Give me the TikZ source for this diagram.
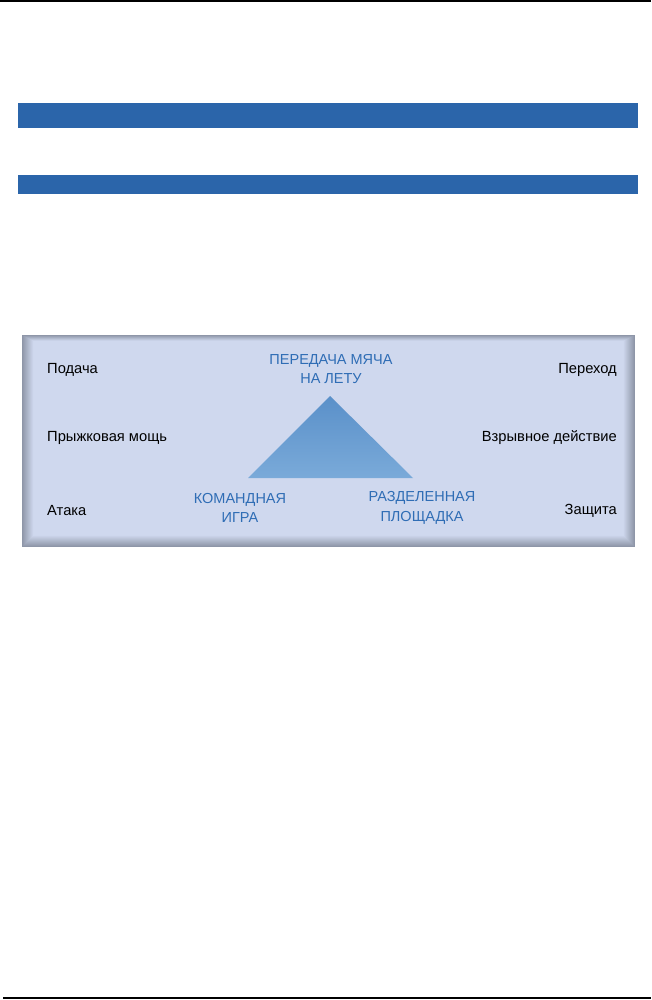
\documentclass[tikz,border=0pt]{standalone}
\usepackage{fontspec}
\setmainfont{Liberation Sans}
\usetikzlibrary{calc, positioning}

\definecolor{barblue}{HTML}{2B65AA}
\definecolor{textblue}{HTML}{2F6DB5}
\definecolor{panelfill}{HTML}{CFD8EE}
\definecolor{paneledge}{HTML}{8E96A8}
\definecolor{tritop}{HTML}{5A90C9}
\definecolor{tribot}{HTML}{7AAAD9}

\tikzset{
  item/.style={font=\fontsize{14.7}{16}\selectfont, text=black, inner sep=0pt},
  corner/.style={font=\fontsize{14.5}{19.5}\selectfont, text=textblue, align=center, inner sep=0pt},
  bar/.style={fill=barblue, draw=none}
}

\begin{document}
\begin{tikzpicture}[x=1pt, y=-1pt]
\def\wid{651}
\def\hgt{1000}
\def\lx{47}
\def\rx{617}
\useasboundingbox (0,0) rectangle (\wid,\hgt);
% page rules
\draw[line width=2pt] (0,1.5) -- (\wid,1.5);
\draw[line width=2pt] (3,998) -- (\wid,998);
% blue bars
\fill[bar] (18,103) rectangle (638,128);
\fill[bar] (18,175) rectangle (638,194);
% panel with soft edge
\foreach \i in {0,...,12} {
  \pgfmathsetmacro\p{min(100,\i*9)}
  \fill[panelfill!\p!paneledge] (22+\i,335+0.5*\i) rectangle (635-\i,547-\i);
}
% triangle
\coordinate (A) at (330,396);
\coordinate (B) at (248,478);
\coordinate (C) at (413,478);
\shade[top color=tritop, bottom color=tribot] (A) -- (B) -- (C) -- cycle;
% side labels
\node[item, anchor=west] (serve) at (\lx,370) {Подача};
\node[item, anchor=west] (jump) at (\lx,438) {Прыжковая мощь};
\node[item, anchor=west] (attack) at (\lx,511) {Атака};
\node[item, anchor=east] (trans) at (\rx,370) {Переход};
\node[item, anchor=east] (burst) at (\rx,438) {Взрывное действие};
\node[item, anchor=east] (defend) at (\rx,511) {Защита};
% corner labels
\node[corner] (volley) at (331,369) {ПЕРЕДАЧА МЯЧА\\НА ЛЕТУ};
\node[corner] (team) at (240,508) {КОМАНДНАЯ\\ИГРА};
\node[corner] (court) at (422,508) {РАЗДЕЛЕННАЯ\\ПЛОЩАДКА};
\end{tikzpicture}
\end{document}
